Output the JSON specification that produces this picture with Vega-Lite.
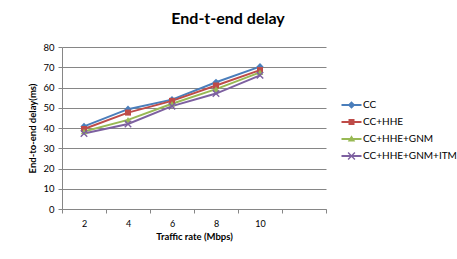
{
  "$schema": "https://vega.github.io/schema/vega-lite/v6.json",
  "width": 264,
  "height": 162,
  "autosize": "none",
  "padding": {"left": 62, "top": 47, "right": 131, "bottom": 50},
  "background": "white",
  "title": {"text": "End-t-end delay", "font": "Lato", "fontSize": 16, "fontWeight": "bold", "color": "#000000", "anchor": "middle", "dx": 34, "offset": 15},
  "data": {"values": [
    {"series": "CC", "rate": 2, "delay": 40.8},
    {"series": "CC", "rate": 4, "delay": 49.3},
    {"series": "CC", "rate": 6, "delay": 54.0},
    {"series": "CC", "rate": 8, "delay": 62.6},
    {"series": "CC", "rate": 10, "delay": 70.3},
    {"series": "CC+HHE", "rate": 2, "delay": 39.5},
    {"series": "CC+HHE", "rate": 4, "delay": 47.6},
    {"series": "CC+HHE", "rate": 6, "delay": 53.4},
    {"series": "CC+HHE", "rate": 8, "delay": 61.0},
    {"series": "CC+HHE", "rate": 10, "delay": 68.6},
    {"series": "CC+HHE+GNM", "rate": 2, "delay": 38.3},
    {"series": "CC+HHE+GNM", "rate": 4, "delay": 44.0},
    {"series": "CC+HHE+GNM", "rate": 6, "delay": 52.0},
    {"series": "CC+HHE+GNM", "rate": 8, "delay": 59.2},
    {"series": "CC+HHE+GNM", "rate": 10, "delay": 67.5},
    {"series": "CC+HHE+GNM+ITM", "rate": 2, "delay": 37.3},
    {"series": "CC+HHE+GNM+ITM", "rate": 4, "delay": 42.0},
    {"series": "CC+HHE+GNM+ITM", "rate": 6, "delay": 50.8},
    {"series": "CC+HHE+GNM+ITM", "rate": 8, "delay": 57.0},
    {"series": "CC+HHE+GNM+ITM", "rate": 10, "delay": 66.0}
  ]},
  "encoding": {
    "x": {"field": "rate", "type": "quantitative",
      "scale": {"domain": [1, 13], "nice": false, "zero": false},
      "axis": {"values": [1, 3, 5, 7, 9, 11, 13], "labelExpr": "datum.value <= 9 ? format(datum.value + 1, 'd') : ''", "labelOffset": 22,
        "grid": false, "title": "Traffic rate (Mbps)", "tickSize": 4, "labelPadding": 6, "titlePadding": 3,
        "domainColor": "#868686", "tickColor": "#868686", "labelFont": "Lato", "labelFontSize": 9, "labelColor": "#000000",
        "titleFont": "Lato", "titleFontSize": 9.5, "titleFontWeight": "bold", "titleColor": "#000000", "labelFlush": false, "labelOverlap": false}},
    "y": {"field": "delay", "type": "quantitative",
      "scale": {"domain": [0, 80], "nice": false},
      "axis": {"values": [0, 10, 20, 30, 40, 50, 60, 70, 80], "grid": true, "gridColor": "#868686", "title": "End-to-end delay(ms)",
        "tickSize": 4, "labelPadding": 4, "titlePadding": 5, "domainColor": "#868686", "tickColor": "#868686",
        "labelFont": "Lato", "labelFontSize": 9.5, "labelColor": "#000000",
        "titleFont": "Lato", "titleFontSize": 9.5, "titleFontWeight": "bold", "titleColor": "#000000"}}
  },
  "layer": [
    {"mark": {"type": "line", "strokeWidth": 2},
     "encoding": {
       "detail": {"field": "series", "type": "nominal"},
       "color": {"condition": [
         {"test": "datum.series === 'CC'", "value": "#4A7EBB"},
         {"test": "datum.series === 'CC+HHE'", "value": "#BE4B48"},
         {"test": "datum.series === 'CC+HHE+GNM'", "value": "#98B954"}
       ], "value": "#7D60A0"}}},
    {"mark": {"type": "point", "filled": true, "opacity": 1},
     "encoding": {
       "color": {"condition": [
         {"test": "datum.series === 'CC'", "value": "#4A7EBB"},
         {"test": "datum.series === 'CC+HHE'", "value": "#BE4B48"},
         {"test": "datum.series === 'CC+HHE+GNM'", "value": "#98B954"}
       ], "value": "#7D60A0"},
       "shape": {"condition": [
         {"test": "datum.series === 'CC'", "value": "diamond"},
         {"test": "datum.series === 'CC+HHE'", "value": "square"},
         {"test": "datum.series === 'CC+HHE+GNM'", "value": "triangle-up"}
       ], "value": "M-0.76,-1.04L1.04,0.76L0.76,1.04L-1.04,-0.76ZM-1.04,0.76L0.76,-1.04L1.04,-0.76L-0.76,1.04Z"},
       "size": {"condition": [
         {"test": "datum.series === 'CC'", "value": 52},
         {"test": "datum.series === 'CC+HHE'", "value": 36},
         {"test": "datum.series === 'CC+HHE+GNM'", "value": 42}
       ], "value": 52}}},
    {"mark": {"type": "point", "filled": true, "opacity": 0},
     "encoding": {
       "color": {"field": "series", "type": "nominal",
         "scale": {"domain": ["CC", "CC+HHE", "CC+HHE+GNM", "CC+HHE+GNM+ITM"], "range": ["#4A7EBB", "#BE4B48", "#98B954", "#7D60A0"]},
         "legend": {"title": null, "orient": "none", "legendX": 284.5, "legendY": 53, "symbolSize": 100, "symbolStrokeWidth": 0, "symbolOpacity": 1,
           "labelOffset": 6.5, "rowPadding": 7, "labelFont": "Lato", "labelFontSize": 10, "labelColor": "#000000"}},
       "shape": {"field": "series", "type": "nominal",
         "scale": {"domain": ["CC", "CC+HHE", "CC+HHE+GNM", "CC+HHE+GNM+ITM"],
           "range": [
             "M-2,-0.18H2V0.18H-2ZM0,-0.75L0.75,0L0,0.75L-0.75,0Z",
             "M-2,-0.18H2V0.18H-2ZM-0.6,-0.6H0.6V0.6H-0.6Z",
             "M-2,-0.18H2V0.18H-2ZM0,-0.75L0.75,0.5H-0.75Z",
             "M-2,-0.18H2V0.18H-2ZM-0.58,-0.78L0.78,0.58L0.58,0.78L-0.78,-0.58ZM-0.78,0.58L0.58,-0.78L0.78,-0.58L-0.58,0.78Z"
           ]},
         "legend": {"title": null, "orient": "none", "legendX": 284.5, "legendY": 53, "symbolSize": 100, "symbolStrokeWidth": 0, "symbolOpacity": 1,
           "labelOffset": 6.5, "rowPadding": 7, "labelFont": "Lato", "labelFontSize": 10, "labelColor": "#000000"}}
     }}
  ],
  "config": {"view": {"stroke": null}, "axis": {"domainWidth": 1, "gridWidth": 1}}
}
